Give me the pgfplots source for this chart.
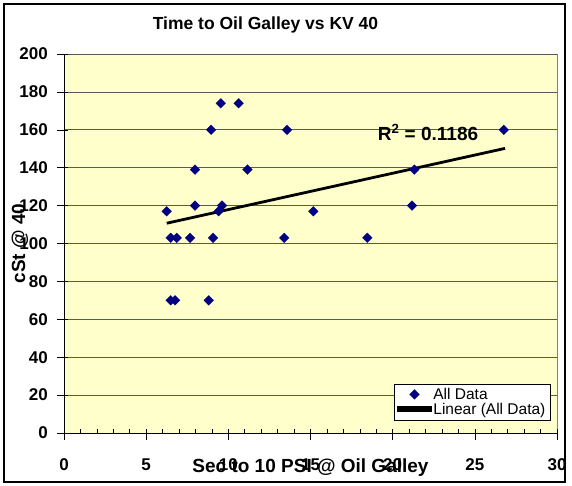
\documentclass[border=0pt]{standalone}
\usepackage{pgfplots}
\pgfplotsset{compat=1.18}
\usepackage{fontspec}
\setmainfont{Liberation Sans}
\definecolor{navy}{RGB}{0,0,128}
\definecolor{plotbg}{RGB}{255,255,204}
\begin{document}
\begin{tikzpicture}[x=1pt,y=1pt]
\path (-64,-52) rectangle (508,433);
\draw[line width=1.2pt] (-60,-49) rectangle (501,429);
\begin{axis}[
 at={(0,0)}, anchor=south west,
 scale only axis, width=493pt, height=379pt,
 xmin=0,xmax=30,ymin=0,ymax=200,
 axis lines=left, axis line style={-, black, line width=0.8pt},
 axis background/.style={fill=plotbg, draw=gray, line width=0.8pt},
 xtick={0,5,...,30}, ytick={0,20,...,200},
 minor x tick num=4,
 tick align=inside, major tick length=4pt, minor tick length=4pt,
 tick style={black, line width=0.6pt},
 extra x ticks={0,5,...,30}, extra x tick labels={},
 extra y ticks={0,20,...,200}, extra y tick labels={},
 extra tick style={tick align=outside, major tick length=6.5pt, grid=none},
 ymajorgrids, major grid style={black!65, line width=0.7pt},
 /pgf/number format/assume math mode=true,
 ticklabel style={font=\bfseries\fontsize{17}{17}\selectfont},
 xticklabel style={anchor=base, yshift=-37pt},
 yticklabel style={anchor=east, inner sep=0pt, xshift=-16pt},
 title={Time to Oil Galley vs KV 40},
 title style={at={(axis description cs:0.4087,1.0475)}, anchor=base, inner sep=0pt, font=\bfseries\fontsize{17.5}{20}\selectfont},
 xlabel={Sec to 10 PSI @ Oil Galley},
 xlabel style={at={(axis description cs:0.5,-0.1029)}, anchor=base, inner sep=0pt, font=\bfseries\fontsize{19}{20}\selectfont},
 ylabel={cSt @ 40},
 ylabel style={at={(axis description cs:-0.0893,0.5)}, anchor=center, inner sep=0pt, font=\bfseries\fontsize{19}{20}\selectfont},
 legend style={at={(0.986,0.034)}, anchor=south east, draw=black, fill=white,
   font=\fontsize{15.5}{18}\selectfont, inner xsep=3pt, inner ysep=2pt, nodes={inner sep=1.5pt}, row sep=0pt},
 legend cell align=left,
 legend image code/.code={\draw[mark repeat=2,mark phase=2,#1] plot coordinates {(0pt,0pt)(16pt,0pt)(32pt,0pt)};},
]
\addplot[only marks, color=navy, mark=square*, mark size=3.5pt, mark options={rotate=45, fill=navy, draw=navy, line width=0.1pt}] coordinates {
(6.25,117) (6.49,103) (6.86,103) (7.67,103) (9.07,103) (13.4,103) (18.46,103)
(7.97,120) (9.62,120) (9.41,117) (15.17,117) (21.18,120)
(7.97,139) (11.16,139) (21.32,139)
(8.95,160) (13.57,160) (26.76,160)
(9.54,174) (10.63,174)
(6.49,70) (6.76,70) (8.81,70)
};
\addlegendentry{All Data}
\addplot[black, line width=2.8pt, mark=none,
  legend image code/.code={\fill[black] (0pt,-0.4pt) rectangle (32pt,2.4pt);}] coordinates {(6.25,110.7) (26.84,150.2)};
\addlegendentry{Linear (All Data)}
\node[anchor=base, inner sep=0pt, font=\bfseries\fontsize{19}{20}\selectfont] at (axis cs:22.15,154.6) {R\textsuperscript{2} = 0.1186};
\end{axis}
\end{tikzpicture}
\end{document}
